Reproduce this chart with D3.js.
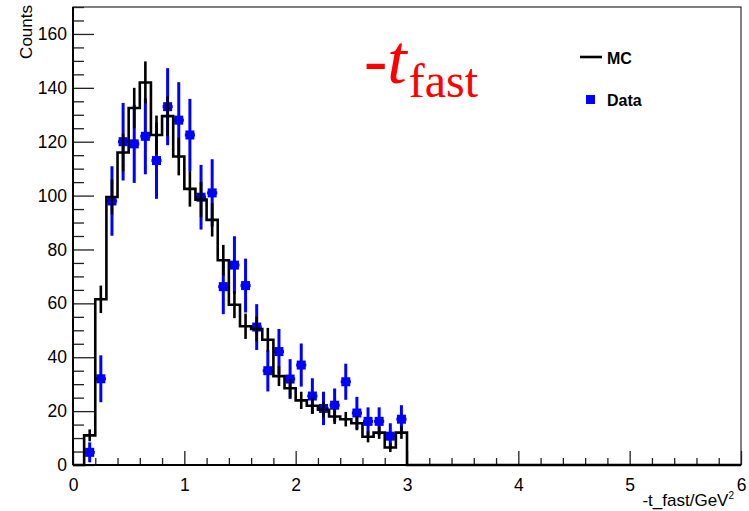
<!DOCTYPE html>
<html>
<head>
<meta charset="utf-8">
<script src="https://cdn.jsdelivr.net/npm/d3@7"></script>
<style>
  html, body { margin: 0; padding: 0; background: #fff; }
  svg { display: block; }
</style>
</head>
<body>
<svg id="chart"></svg>
<script>
/* -t_fast: MC histogram vs data points */

// MC histogram, 0.1 wide bins starting at these lower edges (bins above 3 are empty)
const mcBinLow = [0.0, 0.1, 0.2, 0.3, 0.4, 0.5, 0.6, 0.7, 0.8, 0.9,
  1.0, 1.1, 1.2, 1.3, 1.4, 1.5, 1.6, 1.7, 1.8, 1.9,
  2.0, 2.1, 2.2, 2.3, 2.4, 2.5, 2.6, 2.7, 2.8, 2.9];
const mcCounts = [0, 11, 61.5, 99.5, 116, 132.5, 142, 122.5, 129.5, 114.5,
  102.5, 98.5, 91, 76, 59.5, 51.5, 50.5, 46.5, 33, 28.5,
  24, 22, 20.5, 18, 17, 15.5, 10.5, 12, 6.5, 12];
const mcErrors = [0, 2.2, 5.1, 6.5, 7, 7.5, 7.8, 7.2, 7.4, 7,
  6.6, 6.5, 6.2, 5.7, 5, 4.7, 4.6, 4.4, 3.7, 3.5,
  3.2, 3, 2.9, 2.8, 2.7, 2.6, 2.1, 2.3, 1.7, 2.3];
const binWidth = 0.1;

// data points at bin centres
const dataT = [0.15, 0.25, 0.35, 0.45, 0.55, 0.65, 0.75, 0.85, 0.95, 1.05,
  1.15, 1.25, 1.35, 1.45, 1.55, 1.65, 1.75, 1.85, 1.95, 2.05,
  2.15, 2.25, 2.35, 2.45, 2.55, 2.65, 2.75, 2.85, 2.95];
const dataCounts = [4.7, 32, 98, 120, 119.2, 122, 113, 133, 128, 122.5,
  99.4, 101, 66.2, 74.2, 66.6, 51.2, 35, 42.1, 31.9, 37.1,
  25.6, 21, 22.2, 30.9, 19.3, 16.2, 16.2, 10.7, 17];
const dataErrors = [3.7, 8.7, 12.9, 14.4, 14.5, 14.1, 14.2, 14.3, 14.1, 13.4,
  12, 12.5, 10.2, 10.7, 10, 8.5, 7.7, 8.4, 7.4, 8,
  6.6, 6.2, 6.2, 6.7, 6, 5.2, 5.2, 4.8, 5.2];

// axes
const xDomain = [0, 6];
const yDomain = [0, 170];
const xMajorTicks = [0, 1, 2, 3, 4, 5, 6];
const xMinorTicks = [0.2, 0.4, 0.6, 0.8, 1.2, 1.4, 1.6, 1.8, 2.2, 2.4, 2.6, 2.8,
  3.2, 3.4, 3.6, 3.8, 4.2, 4.4, 4.6, 4.8, 5.2, 5.4, 5.6, 5.8];
const yMajorTicks = [0, 20, 40, 60, 80, 100, 120, 140, 160];
const yMinorTicks = [5, 10, 15, 25, 30, 35, 45, 50, 55, 65, 70, 75, 85, 90, 95,
  105, 110, 115, 125, 130, 135, 145, 150, 155, 165, 170];

const legendItems = ['MC', 'Data'];

const W = 749;
const H = 511;
const margin = { top: 7, right: 8, bottom: 46, left: 73 };
const FONT = '"Liberation Sans", Arial, Helvetica, sans-serif';
const SERIF = '"Liberation Serif", "Times New Roman", serif';
const BLUE = '#0000ff';

const translate = (x, y) => `translate(${x}, ${y})`;

const svg = d3.select('#chart').attr('width', W).attr('height', H);

const x = d3.scaleLinear().domain(xDomain).range([margin.left, W - margin.right]);
const y = d3.scaleLinear().domain(yDomain).range([H - margin.bottom, margin.top]);

// frame (top / right sides thin)
svg.append('rect')
  .attr('x', x(xDomain[0]))
  .attr('y', y(yDomain[1]))
  .attr('width', x(xDomain[1]) - x(xDomain[0]))
  .attr('height', y(yDomain[0]) - y(yDomain[1]))
  .attr('fill', 'none')
  .attr('stroke', '#000')
  .attr('stroke-width', 1);

const styleAxis = (g) => {
  g.select('.domain').remove();
  g.selectAll('.tick line').attr('stroke', '#222').attr('stroke-width', 1.3);
  g.selectAll('.tick text')
    .attr('fill', '#000')
    .style('font-family', FONT)
    .style('font-size', '17.5px');
};

// y axis, ticks pointing inward
svg.append('g')
  .attr('transform', translate(x(0), 0))
  .call(d3.axisLeft(y).tickValues(yMinorTicks).tickSize(-11).tickFormat(''))
  .call(styleAxis);
svg.append('g')
  .attr('transform', translate(x(0), 0))
  .call(d3.axisLeft(y).tickValues(yMajorTicks).tickSize(-21).tickPadding(6).tickFormat(d3.format('d')))
  .call(styleAxis);

// x axis
svg.append('g')
  .attr('transform', translate(0, y(0)))
  .call(d3.axisBottom(x).tickValues(xMinorTicks).tickSize(-7).tickFormat(''))
  .call(styleAxis);
svg.append('g')
  .attr('transform', translate(0, y(0)))
  .call(d3.axisBottom(x).tickValues(xMajorTicks).tickSize(-14).tickPadding(14).tickFormat(d3.format('d')))
  .call(styleAxis);

// heavier left / bottom axis lines
svg.append('line')
  .attr('x1', x(0)).attr('x2', x(0))
  .attr('y1', y(yDomain[1])).attr('y2', y(0))
  .attr('stroke', '#000').attr('stroke-width', 2);
svg.append('line')
  .attr('x1', x(0)).attr('x2', x(xDomain[1]))
  .attr('y1', y(0)).attr('y2', y(0))
  .attr('stroke', '#000').attr('stroke-width', 2);

// axis titles
svg.append('text')
  .attr('transform', translate(32, 5) + ' rotate(-90)')
  .attr('text-anchor', 'end')
  .style('font-family', FONT)
  .style('font-size', '17px')
  .text('Counts');

// x title sits just left of the "6" label
const xTitle = svg.append('text')
  .attr('x', x(xDomain[1]) - 7)
  .attr('y', 506)
  .attr('text-anchor', 'end')
  .style('font-family', FONT)
  .style('font-size', '17px');
xTitle.append('tspan').text('-t_fast/GeV');
xTitle.append('tspan').attr('dy', -7).style('font-size', '10px').text('2');

// data points: error bars + square markers
const points = svg.append('g').selectAll('g')
  .data(dataT.map((t, i) => ({ t, v: dataCounts[i], e: dataErrors[i] })))
  .join('g');

points.append('line')
  .attr('x1', d => x(d.t)).attr('x2', d => x(d.t))
  .attr('y1', d => y(d.v - d.e)).attr('y2', d => y(d.v + d.e))
  .attr('stroke', BLUE).attr('stroke-width', 3);
points.append('line')
  .attr('x1', d => x(d.t - binWidth / 2) + 0.5).attr('x2', d => x(d.t + binWidth / 2) - 0.5)
  .attr('y1', d => y(d.v)).attr('y2', d => y(d.v))
  .attr('stroke', BLUE).attr('stroke-width', 3);
points.append('rect')
  .attr('x', d => x(d.t) - 4.5)
  .attr('y', d => y(d.v) - 4.5)
  .attr('width', 9).attr('height', 9)
  .attr('fill', BLUE);

// MC step histogram
const mcPts = mcBinLow.map((lo, i) => [lo, mcCounts[i]]);
mcPts.push([mcBinLow[mcBinLow.length - 1] + binWidth, 0], [xDomain[1], 0]);

const stepFn = d3.line()
  .x(d => x(d[0]))
  .y(d => y(d[1]))
  .curve(d3.curveStepAfter);

svg.append('path')
  .attr('d', stepFn(mcPts))
  .attr('fill', 'none')
  .attr('stroke', '#000')
  .attr('stroke-width', 2.6);

// MC error ticks
svg.append('g').selectAll('line')
  .data(mcBinLow.map((lo, i) => ({ c: lo + binWidth / 2, v: mcCounts[i], e: mcErrors[i] })).filter(d => d.e > 0))
  .join('line')
  .attr('x1', d => x(d.c)).attr('x2', d => x(d.c))
  .attr('y1', d => y(d.v - d.e)).attr('y2', d => y(d.v + d.e))
  .attr('stroke', '#000')
  .attr('stroke-width', 2.6);

// title: -t_fast
const title = svg.append('text')
  .attr('x', 364)
  .attr('y', 83)
  .attr('fill', '#ff0000')
  .style('font-family', SERIF);
title.append('tspan').style('font-style', 'italic').style('font-size', '70px').text('-t');
title.append('tspan').attr('dy', 14).attr('dx', 2).style('font-size', '48px').text('fast');

// legend
const legend = svg.append('g').attr('transform', translate(580, 0));
legend.append('line')
  .attr('x1', 0).attr('x2', 22)
  .attr('y1', 57).attr('y2', 57)
  .attr('stroke', '#000').attr('stroke-width', 2.6);
legend.append('rect')
  .attr('x', 6).attr('y', 95)
  .attr('width', 9).attr('height', 9)
  .attr('fill', BLUE);
legend.selectAll('text.lab')
  .data(legendItems)
  .join('text')
  .attr('class', 'lab')
  .attr('x', 27)
  .attr('y', (d, i) => 63.5 + i * 42.5)
  .style('font-family', FONT)
  .style('font-weight', 'bold')
  .style('font-size', '16px')
  .text(d => d);
</script>
</body>
</html>
